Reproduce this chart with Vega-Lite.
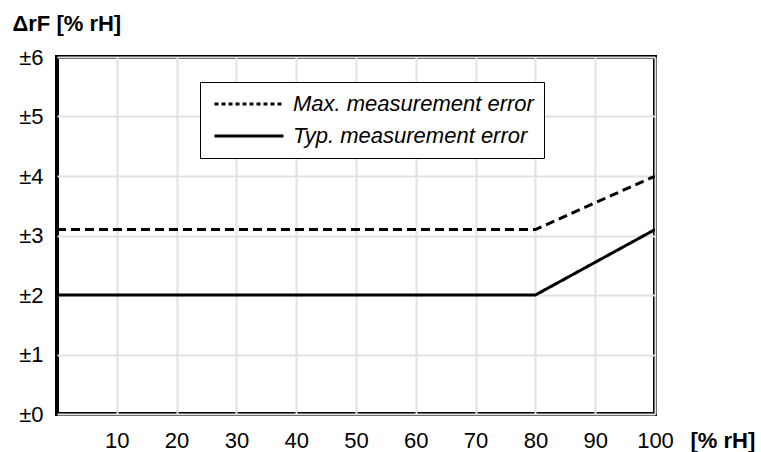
{
  "$schema": "https://vega.github.io/schema/vega-lite/v6.json",
  "autosize": {"type": "none"},
  "padding": {"left": 57, "top": 57, "right": 106, "bottom": 38},
  "width": 598,
  "height": 357,
  "background": "white",
  "config": {
    "font": "Liberation Sans",
    "view": {"stroke": "black", "strokeWidth": 4},
    "axis": {
      "grid": true,
      "gridColor": "#e2e2e2",
      "gridWidth": 2,
      "domain": false,
      "ticks": false,
      "labelFont": "Liberation Sans",
      "labelFontSize": 22,
      "labelColor": "black",
      "titleFont": "Liberation Sans",
      "titleColor": "black",
      "titleFontSize": 22,
      "titleFontWeight": "bold"
    }
  },
  "data": {
    "values": [
      {"rh": 0, "err": 3.1, "series": "Max. measurement error"},
      {"rh": 80, "err": 3.1, "series": "Max. measurement error"},
      {"rh": 100, "err": 4, "series": "Max. measurement error"},
      {"rh": 0, "err": 2, "series": "Typ. measurement error"},
      {"rh": 80, "err": 2, "series": "Typ. measurement error"},
      {"rh": 100, "err": 3.1, "series": "Typ. measurement error"}
    ]
  },
  "encoding": {
    "x": {
      "field": "rh",
      "type": "quantitative",
      "scale": {"domain": [0, 100], "nice": false},
      "axis": {
        "values": [10, 20, 30, 40, 50, 60, 70, 80, 90, 100],
        "labelPadding": 33,
        "labelBaseline": "alphabetic",
        "labelFlush": false,
        "labelOverlap": false,
        "title": "[% rH]",
        "titleX": 633,
        "titleY": 33,
        "titleAlign": "left",
        "titleBaseline": "alphabetic",
        "titleAnchor": null
      }
    },
    "y": {
      "field": "err",
      "type": "quantitative",
      "scale": {"domain": [0, 6], "nice": false},
      "axis": {
        "values": [0, 1, 2, 3, 4, 5, 6],
        "labelExpr": "'±' + datum.value",
        "labelPadding": 14,
        "labelFlush": false,
        "labelOverlap": false,
        "title": "ΔrF [% rH]",
        "titleAngle": 0,
        "titleX": -45,
        "titleY": -27,
        "titleAlign": "left",
        "titleBaseline": "alphabetic",
        "titleAnchor": null
      }
    }
  },
  "layer": [
    {
      "mark": {"type": "line", "color": "black", "strokeWidth": 3, "clip": true},
      "encoding": {
        "strokeDash": {
          "field": "series",
          "type": "nominal",
          "scale": {
            "domain": ["Max. measurement error", "Typ. measurement error"],
            "range": [[9, 5], [1, 0]]
          },
          "legend": null
        }
      }
    },
    {
      "transform": [{"filter": "datum.rh == 0"}],
      "mark": {"type": "line", "color": "black", "strokeWidth": 3, "clip": true},
      "encoding": {
        "strokeDash": {
          "field": "series",
          "type": "nominal",
          "scale": {
            "domain": ["Max. measurement error", "Typ. measurement error"],
            "range": [[4, 3], [1, 0]]
          },
          "legend": {
            "title": null,
            "orient": "none",
            "legendX": 143,
            "legendY": 25,
            "fillColor": "white",
            "strokeColor": "black",
            "padding": 10,
            "clipHeight": 24,
            "rowPadding": 8,
            "symbolType": "stroke",
            "symbolSize": 4761,
            "symbolOffset": 3,
            "symbolStrokeWidth": 3,
            "symbolStrokeColor": "black",
            "labelFont": "Liberation Sans",
            "labelFontSize": 22,
            "labelFontStyle": "italic",
            "labelColor": "black",
            "labelOffset": 8,
            "labelLimit": 400
          }
        }
      }
    }
  ],
  "resolve": {"scale": {"strokeDash": "independent"}}
}
